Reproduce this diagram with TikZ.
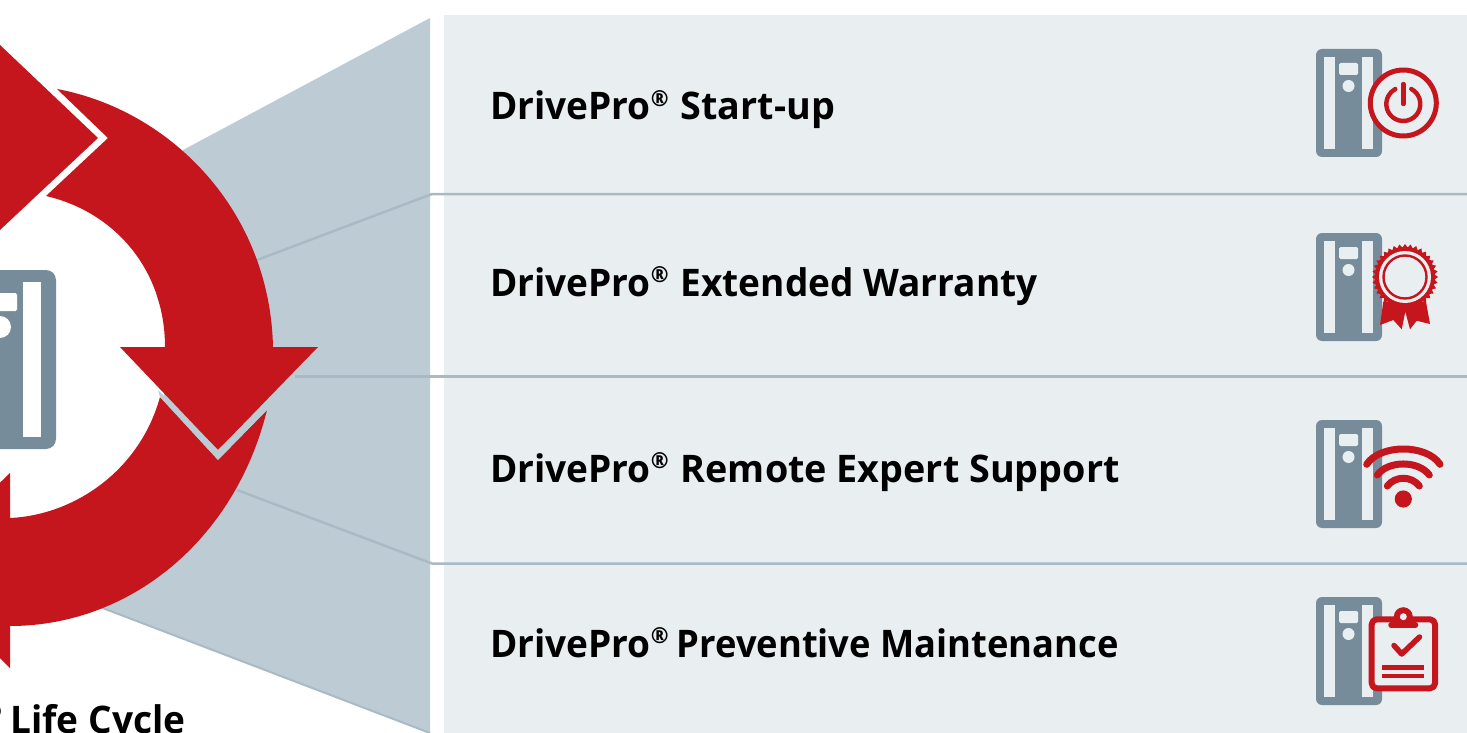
\documentclass[tikz,border=0pt]{standalone}
\usepackage{fontspec}
\setmainfont[FakeStretch=0.974]{Open Sans}
\usetikzlibrary{calc}
\definecolor{panelgrey}{HTML}{E9EEF1}
\definecolor{wedgegrey}{HTML}{BDCCD4}
\definecolor{linegrey}{HTML}{A9BAC5}
\definecolor{drivegrey}{HTML}{778C9A}
\definecolor{danred}{HTML}{C4161C}
\tikzset{
	servicetext/.style={anchor=base west, inner sep=0pt, font=\fontsize{38}{38}\selectfont\bfseries, text=black},
	iconline/.style={draw=danred, line width=#1, line cap=round, line join=round}
}
\def\regsign{\raisebox{0.36em}{\fontsize{22}{22}\selectfont ®}}
\def\driveicon(#1,#2){
	\begin{scope}[shift={(#1,#2)}]
		\fill[drivegrey, rounded corners=6pt] (0,0) rectangle (66,108);
		\fill[panelgrey] (8,8) rectangle (19,100);
		\fill[panelgrey] (46,8) rectangle (57,100);
		\fill[panelgrey, rounded corners=1.5pt] (23,14) rectangle (42,26);
		\fill[panelgrey] (32.5,37) circle (6);
	\end{scope}
}

\begin{document}
\begin{tikzpicture}[x=1pt,y=-1pt]
	\useasboundingbox (0,0) rectangle (1467,733);
	\clip (0,0) rectangle (1467,733);
	\fill[white] (0,0) rectangle (1467,733);

	% panel and wedge
	\fill[panelgrey] (444,15) rectangle (1467,733);
	\fill[wedgegrey] (100,607) -- (183,150) -- (430,18) -- (430,733) -- cycle;
	\draw[linegrey, line width=2pt] (100,607) -- (430,733);
	\draw[linegrey, line width=2.5pt] (257,260) -- (432,194) -- (1467,194);
	\draw[linegrey, line width=2.5pt] (295,376.5) -- (1467,376.5);
	\draw[linegrey, line width=2.5pt] (237,490) -- (432,563.5) -- (1467,563.5);

	% cycle
	\fill[white] (3,357) circle (165);
	\fill[drivegrey, rounded corners=10pt] (-50,270) rectangle (56,449);
	\fill[white] (23,282) rectangle (41,437);
	\fill[white, rounded corners=1.5pt] (-20,293) rectangle (17,311);
	\fill[white] (0,327) circle (11);

	\fill[danred] (57,89) -- (108,138) -- (46,196)
		.. controls (115,212) and (165,270) .. (165,347) -- (120,347)
		-- (218,450) -- (318,347) -- (273,347)
		.. controls (270,210) and (170,110) .. (57,89) -- cycle;
	\fill[danred] (267,410) -- (218,460) -- (160,397)
		.. controls (140,470) and (75,515) .. (10,518) -- (10,473) -- (-90,570) -- (10,668) -- (10,626)
		.. controls (130,626) and (235,540) .. (267,410) -- cycle;
	\fill[wedgegrey] (158,390) -- (218,450) -- (268,403) -- (267,410) -- (218,460) -- (160,397) -- cycle;
	\fill[danred] (-100,40) -- (0,45) -- (98,138) -- (0,230) -- (-100,230) -- cycle;

	\node[servicetext, anchor=base east] (lifecycle) at (185.5,733) {DrivePro\regsign\kern-1pt{} Life Cycle};

	% services
	\node[servicetext] (startup) at (490,120) {DrivePro\regsign\kern2.5pt{} {\addfontfeature{FakeStretch=0.993}Start-up}};
	\node[servicetext] (warranty) at (490,296.5) {DrivePro\regsign\kern2.5pt{} Extended Warranty};
	\node[servicetext] (remote) at (490,482.5) {DrivePro\regsign\kern2.5pt{} {\addfontfeature{FakeStretch=0.993}Remote Expert Support}};
	\node[servicetext] (preventive) at (490,657.5) {DrivePro\regsign\kern-1.5pt{} {\addfontfeature{FakeStretch=0.956}Preventive Maintenance}};

	\driveicon(1316,49)
	\driveicon(1316,233)
	\driveicon(1316,420)
	\driveicon(1316,597)

	% power
	\fill[panelgrey] (1403.3,103) circle (33);
	\draw[iconline=5pt] (1403.3,103) circle (33);
	\draw[iconline=4.4pt] ($(1403.3,104)+(-62:17)$) arc[start angle=-62, end angle=242, radius=17];
	\draw[iconline=4.4pt] (1403.3,84) -- (1403.3,104);

	% rosette
	\fill[danred] (1383.3,301.7) -- (1380,325) -- (1393.3,320) -- (1401.7,329.3) -- (1405.3,311.7)
		-- (1410,329.3) -- (1416.7,320.7) -- (1430,324) -- (1426,301.7) -- cycle;
	\fill[danred] \foreach \a in {0,10,...,350} {
		(1405,277) -- ($(1405,277)+(\a-5:29.5)$) -- ($(1405,277)+(\a:33)$) -- ($(1405,277)+(\a+5:29.5)$) -- cycle };
	\fill[danred] (1405,277) circle (30);
	\fill[panelgrey] (1405,277) circle (26);
	\draw[danred, line width=2.4pt] (1405,277) circle (21.5);

	% wifi
	\fill[danred] (1403.3,499) circle (8.6);
	\draw[iconline=7pt] (1366.7,464.3) .. controls (1380,443.9) and (1426.6,443.9) .. (1440,464.3);
	\draw[iconline=7pt] (1377.3,475) .. controls (1388,460.3) and (1418.6,460.3) .. (1429.3,475);
	\draw[iconline=7pt] (1387.3,486) .. controls (1395,475.7) and (1411.6,475.7) .. (1419.3,486);

	% clipboard
	\draw[iconline=6pt, fill=panelgrey, rounded corners=5pt] (1371.7,619.3) rectangle (1435,688.3);
	\fill[danred] (1403.3,616.7) circle (9.5);
	\fill[panelgrey] (1403.3,616.7) circle (3.5);
	\draw[iconline=5.5pt] (1391,625) -- (1415.5,625);
	\draw[iconline=5.5pt] (1394,645.5) -- (1401.7,654) -- (1419.5,637);
	\draw[danred, line width=4.4pt] (1382.3,667.5) -- (1424.3,667.5);
	\draw[danred, line width=4.4pt] (1382.3,675.7) -- (1424.3,675.7);
\end{tikzpicture}
\end{document}
